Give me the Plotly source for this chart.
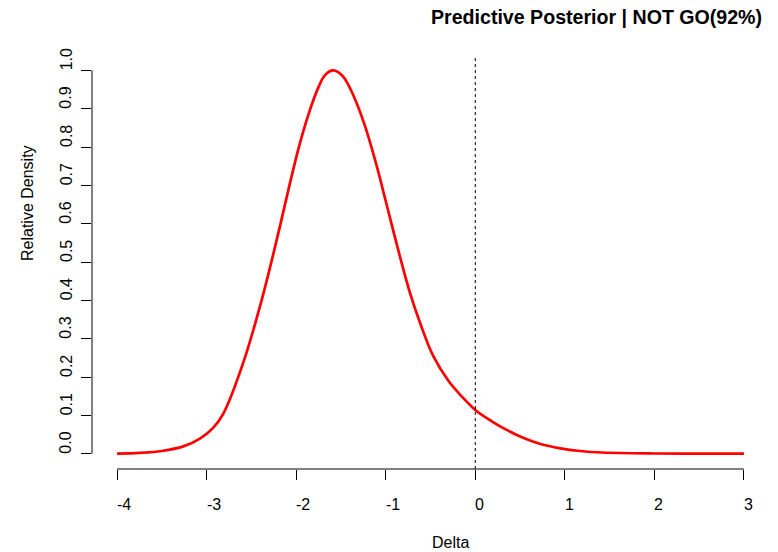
import plotly.graph_objects as go

delta = [-4.0, -3.75, -3.5, -3.26, -3.07, -2.925, -2.81, -2.59, -2.386, -2.22,
         -2.07, -1.958, -1.846, -1.753, -1.68, -1.586, -1.48, -1.362, -1.232, -1.10,
         -0.99, -0.842, -0.73, -0.618, -0.47, -0.30, -0.15, 0.0, 0.18, 0.35,
         0.52, 0.72, 0.95, 1.17, 1.42, 2.0, 2.5, 3.0]
density = [0.000, 0.002, 0.007, 0.019, 0.040, 0.068, 0.106, 0.238, 0.400, 0.555,
           0.705, 0.810, 0.897, 0.955, 0.987, 1.000, 0.985, 0.935, 0.855, 0.750,
           0.650, 0.515, 0.420, 0.342, 0.255, 0.190, 0.149, 0.114, 0.085, 0.062,
           0.043, 0.026, 0.014, 0.007, 0.003, 0.0005, 0.000, 0.000]

x_ticks = [-4, -3, -2, -1, 0, 1, 2, 3]
y_ticks = [0.0, 0.1, 0.2, 0.3, 0.4, 0.5, 0.6, 0.7, 0.8, 0.9, 1.0]

title_text = "Predictive Posterior | NOT GO(92%)"
x_title = "Delta"
y_title = "Relative Density"

FONT = "Liberation Sans, Arial, Helvetica, sans-serif"

fig = go.Figure()
fig.add_trace(go.Scatter(
    x=delta, y=density, mode="lines",
    line=dict(color="#ff0000", width=2.7, shape="spline", smoothing=1.0),
    hoverinfo="skip", showlegend=False,
))

fig.update_layout(
    width=778, height=552,
    margin=dict(l=92, r=9, t=55, b=83),
    paper_bgcolor="white", plot_bgcolor="white",
    font=dict(family=FONT, size=16, color="black"),
    showlegend=False,
    xaxis=dict(range=[-4.28, 3.28], showgrid=False, zeroline=False, showline=False,
               tickmode="array", tickvals=x_ticks, ticks="outside", ticklen=10,
               tickwidth=1, tickcolor="black", showticklabels=False, fixedrange=True),
    yaxis=dict(range=[-0.04, 1.04], showgrid=False, zeroline=False, showline=False,
               tickmode="array", tickvals=y_ticks, ticks="outside", ticklen=10,
               tickwidth=1, tickcolor="black", showticklabels=False, fixedrange=True),
)

shapes = [
    dict(type="line", xref="x", yref="paper", x0=x_ticks[0], x1=x_ticks[-1], y0=0, y1=0,
         line=dict(color="black", width=1)),
    dict(type="line", xref="paper", yref="y", x0=0, x1=0, y0=y_ticks[0], y1=y_ticks[-1],
         line=dict(color="black", width=1)),
    dict(type="line", xref="x", yref="paper", x0=0, x1=0, y0=0, y1=1,
         line=dict(color="black", width=1, dash="dot")),
]
fig.update_layout(shapes=shapes)

ann = []
for v in x_ticks:
    ann.append(dict(x=v, xref="x", y=(469 - 504) / 414, yref="paper",
                    text=str(v), showarrow=False, xanchor="left", yanchor="middle",
                    font=dict(size=16), xshift=-2))
for v in y_ticks:
    ann.append(dict(x=(66 - 92) / 677, xref="paper", y=v, yref="y",
                    text=f"{v:.1f}", showarrow=False, xanchor="center", yanchor="bottom",
                    textangle=-90, font=dict(size=16), yshift=-2))
ann.append(dict(x=0.5, xref="paper", y=(469 - 542) / 414, yref="paper", text=x_title,
                showarrow=False, xanchor="left", yanchor="middle", font=dict(size=16), xshift=-1))
ann.append(dict(x=(27 - 92) / 677, xref="paper", y=0.5, yref="paper", text=y_title,
                showarrow=False, xanchor="center", yanchor="bottom", textangle=-90,
                font=dict(size=16), yshift=-1))
ann.append(dict(x=0.5, xref="paper", y=(469 - 17) / 414, yref="paper",
                text="<b>" + title_text + "</b>", showarrow=False, xanchor="left",
                yanchor="middle", font=dict(size=19.6), xshift=-2))
fig.update_layout(annotations=ann)

fig.write_html("out.html")
